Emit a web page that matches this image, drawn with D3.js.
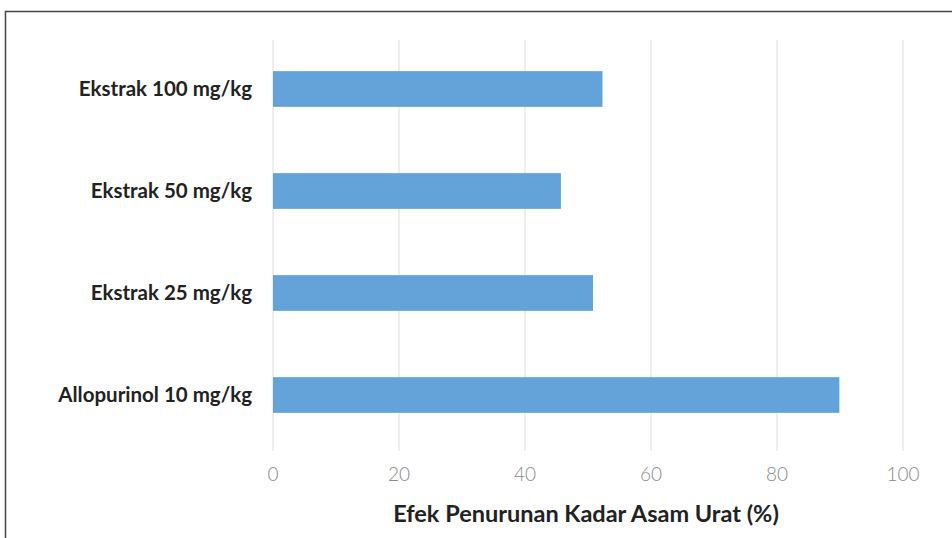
<!DOCTYPE html>
<html>
<head>
<meta charset="utf-8">
<script src="https://d3js.org/d3.v7.min.js"></script>
<style>
    body { margin: 0; background: #fff; }
    svg  { display: block; font-family: Lato, "Open Sans", sans-serif; }
</style>
</head>
<body>
<div id="chart"></div>
<script>
// Chart data
const categories = ["Ekstrak 100 mg/kg", "Ekstrak 50 mg/kg", "Ekstrak 25 mg/kg", "Allopurinol 10 mg/kg"];
const values     = [52.3, 45.7, 50.8, 89.9];
const tickValues = [0, 20, 40, 60, 80, 100];
const axisTitle  = "Efek Penurunan Kadar Asam Urat (%)";

const WIDTH  = 952;
const HEIGHT = 538;

const svg = d3.select("#chart")
    .append("svg")
    .attr("width", WIDTH)
    .attr("height", HEIGHT);

// Outer frame (runs off the right and bottom edge)
svg.append("rect")
    .attr("x", 5.5)
    .attr("y", 11.5)
    .attr("width", 960)
    .attr("height", 560)
    .attr("fill", "none")
    .attr("stroke", "#444")
    .attr("stroke-width", 1.5);

const x = d3.scaleLinear()
    .domain([0, 100])
    .range([273, 903]);

const y = d3.scaleBand()
    .domain(categories)
    .range([38, 446])
    .paddingInner(0.65)
    .paddingOuter(0.325);

// Vertical grid lines
svg.append("g")
    .selectAll("line")
    .data(tickValues)
    .join("line")
    .attr("x1", (d) => x(d))
    .attr("x2", (d) => x(d))
    .attr("y1", 40)
    .attr("y2", 451)
    .attr("stroke", "#e3e3e3")
    .attr("stroke-width", 1.2);

// Bars
svg.append("g")
    .selectAll("rect")
    .data(values)
    .join("rect")
    .attr("x", x(0))
    .attr("y", (d, i) => y(categories[i]))
    .attr("width", (d) => x(d) - x(0))
    .attr("height", y.bandwidth())
    .attr("fill", "#64a3da");

// Category labels
svg.append("g")
    .selectAll("text")
    .data(categories)
    .join("text")
    .attr("x", 252)
    .attr("y", (d) => y(d) + y.bandwidth() / 2)
    .attr("dy", "0.35em")
    .attr("text-anchor", "end")
    .attr("font-size", 20.5)
    .attr("font-weight", "bold")
    .attr("fill", "#222")
    .text((d) => d);

// Tick labels
svg.append("g")
    .selectAll("text")
    .data(tickValues)
    .join("text")
    .attr("x", (d) => x(d))
    .attr("y", 474)
    .attr("dy", "0.35em")
    .attr("text-anchor", "middle")
    .attr("font-size", 19)
    .attr("font-weight", 300)
    .attr("fill", "#8a8a8a")
    .text((d) => d);

// Axis title
svg.append("text")
    .attr("x", x(50) - 2)
    .attr("y", 514)
    .attr("dy", "0.35em")
    .attr("text-anchor", "middle")
    .attr("font-size", 23.5)
    .attr("font-weight", "bold")
    .attr("fill", "#222")
    .text(axisTitle);
</script>
</body>
</html>
